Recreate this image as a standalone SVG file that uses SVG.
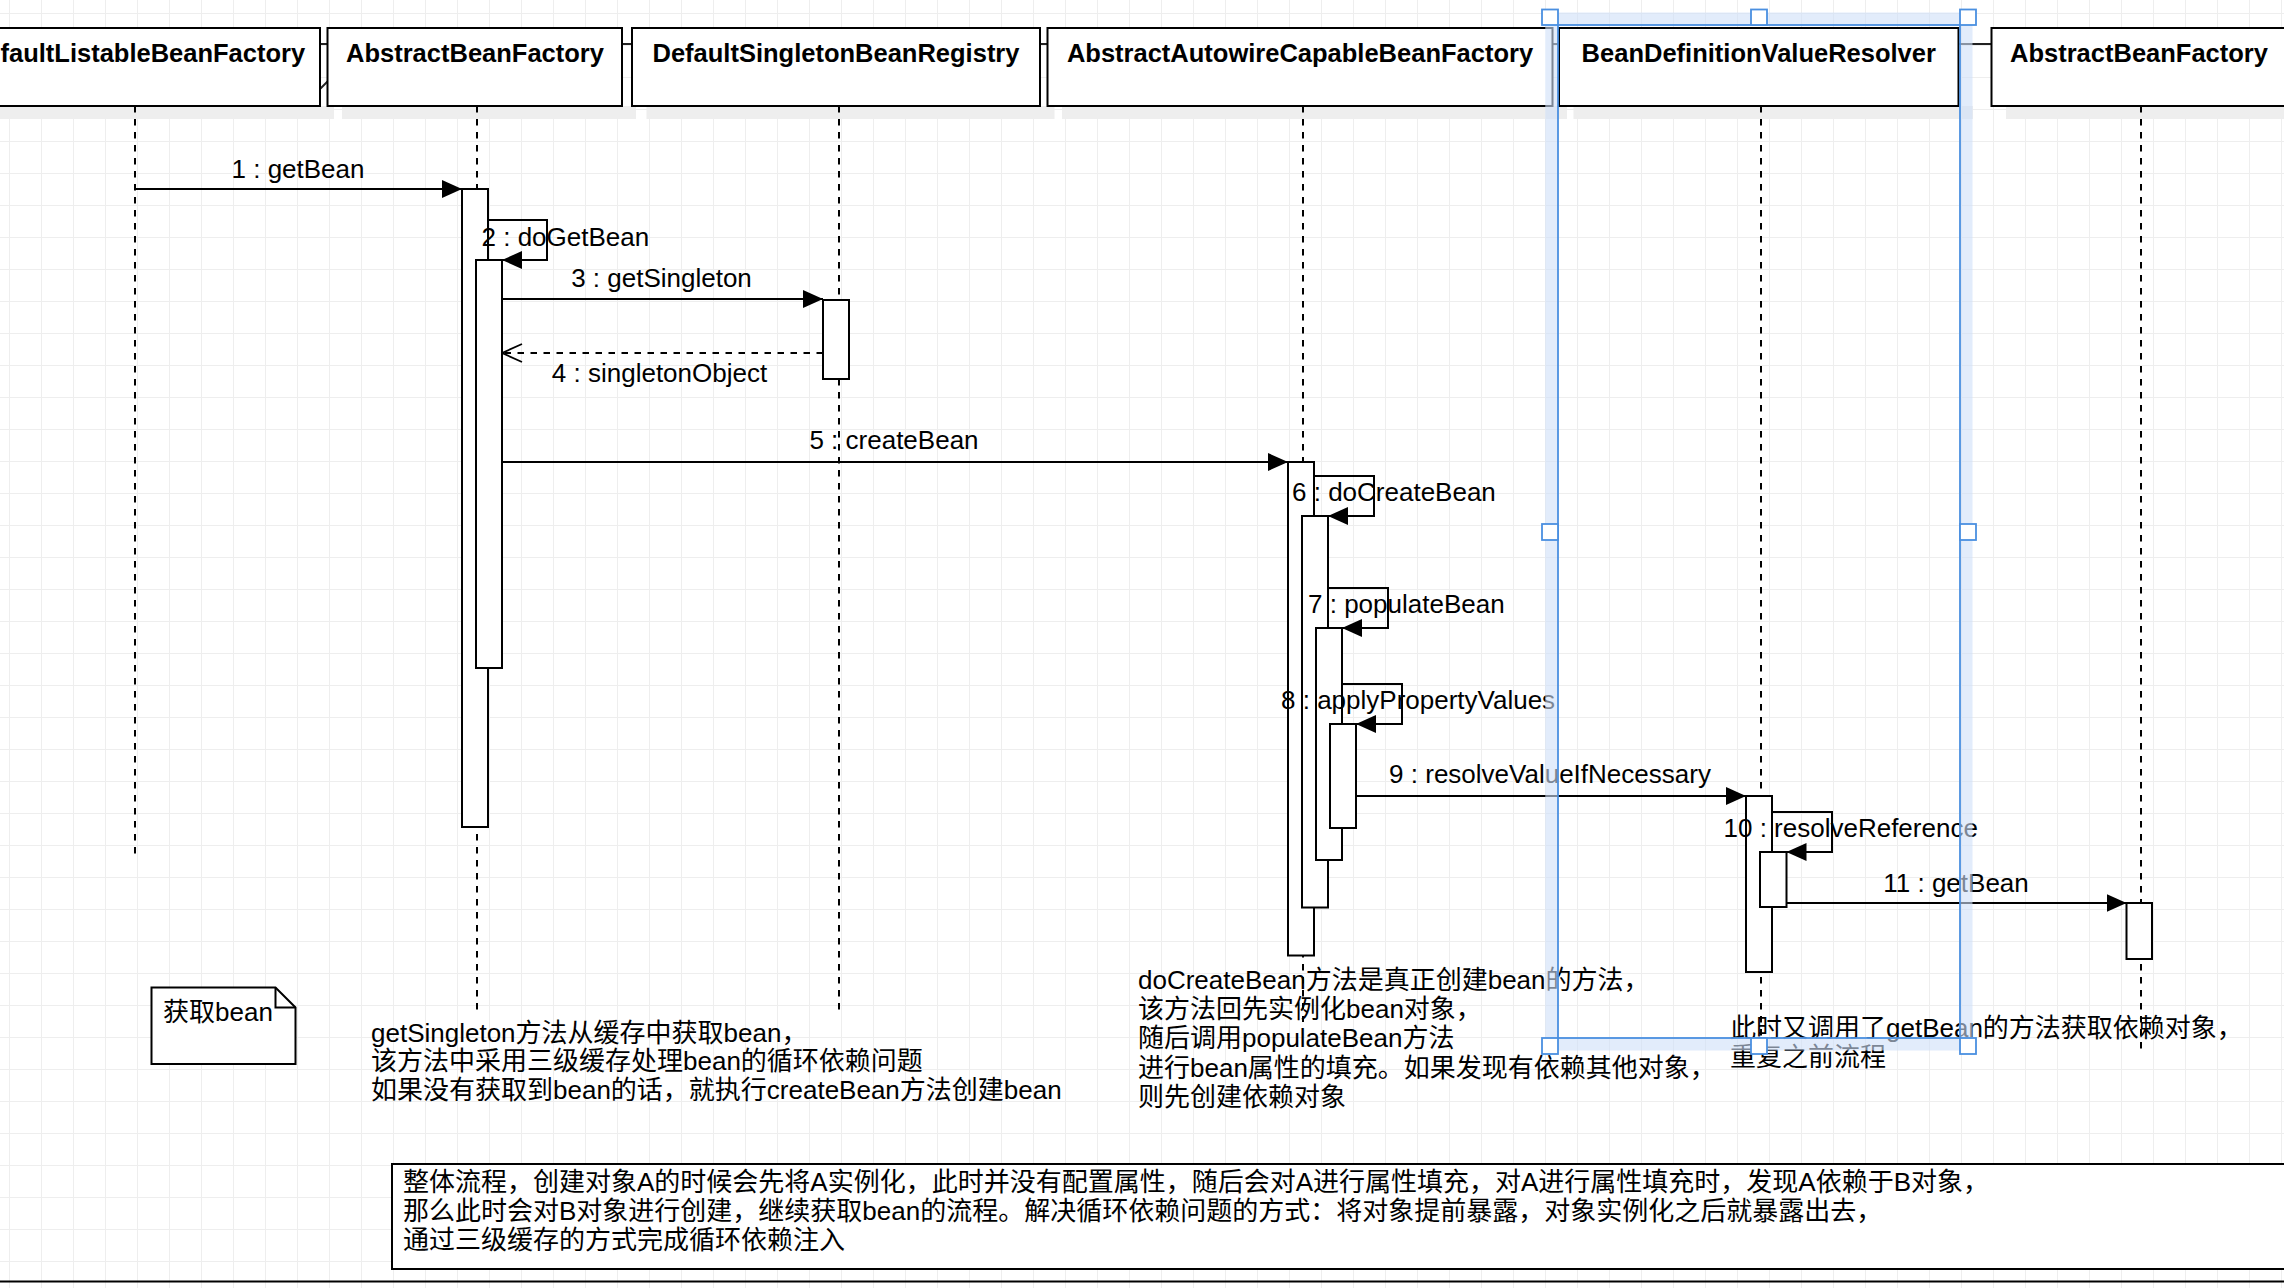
<svg xmlns="http://www.w3.org/2000/svg" width="2284" height="1288" viewBox="0 0 2284 1288">
<defs>
<pattern id="grid" width="32" height="32" patternUnits="userSpaceOnUse" x="9" y="13">
<path d="M0 0.5H32M0.5 0V32" stroke="#eeeeee" stroke-width="1" fill="none"/>
</pattern>
<marker id="filled" markerUnits="userSpaceOnUse" viewBox="0 0 20 18" markerWidth="20" markerHeight="18" refX="20" refY="9" orient="auto">
<path d="M0 0L20 9L0 18Z" fill="#000"/>
</marker>
<marker id="open" markerUnits="userSpaceOnUse" viewBox="-1 -1 22 20" markerWidth="22" markerHeight="20" refX="20" refY="9" orient="auto">
<path d="M0 0L20 9L0 18" fill="none" stroke="#000" stroke-width="1.8"/>
</marker>
</defs>
<style>
.hdr{fill:#fff;stroke:#000;stroke-width:2}
.shadow{fill:#eeeeee}
.hdrtxt{font-family:"Liberation Sans",Arial,sans-serif;font-weight:bold;font-size:25.5px;fill:#000;text-anchor:middle}
.life{stroke:#000;stroke-width:2;stroke-dasharray:6.5 6.5;fill:none}
.act{fill:#fff;stroke:#000;stroke-width:2}
.msg{stroke:#000;stroke-width:2;fill:none}
.ret{stroke:#000;stroke-width:2;fill:none;stroke-dasharray:6.5 6.5}
.lbl{font-family:"Liberation Sans",Arial,sans-serif;font-size:26px;fill:#000}
.mid{text-anchor:middle}
.txt{font-family:"Liberation Sans","Noto Sans CJK SC",sans-serif;font-size:26px;fill:#000}
.link{stroke:#222;stroke-width:2;fill:none}
.selband{fill:none;stroke:#cfe0f8;stroke-opacity:0.6;stroke-width:12.5}
.selline{fill:none;stroke:#4a8fe0;stroke-width:1.8}
.handle{fill:#fff;stroke:#4a8fe0;stroke-width:1.8}
</style>
<rect x="0" y="0" width="2284" height="1288" fill="#fff"/>
<rect x="0" y="0" width="2284" height="1288" fill="url(#grid)"/>

<g id="frame-links">
<line class="link" x1="320" y1="44" x2="328" y2="44"/>
<line class="link" x1="320.5" y1="88.5" x2="327.5" y2="81.5"/>
<line class="link" x1="622" y1="44" x2="632" y2="44"/>
<line class="link" x1="1040" y1="44" x2="1048" y2="44"/>
<line class="link" x1="1552" y1="44" x2="1559" y2="44"/>
<line class="link" x1="1958" y1="44" x2="1992" y2="44"/>
</g>

<g id="DefaultListableBeanFactory">
<rect class="shadow" x="-35" y="106" width="369" height="13"/>
<line class="life" x1="135" y1="106" x2="135" y2="856"/>
<rect class="hdr" x="-50" y="28" width="370" height="78"/>
<text class="hdrtxt" x="0.5" y="62" style="text-anchor:start">faultListableBeanFactory</text>
</g>

<g id="AbstractBeanFactory">
<rect class="shadow" x="342" y="106" width="294" height="13"/>
<line class="life" x1="477" y1="106" x2="477" y2="1013"/>
<rect class="hdr" x="327.5" y="28" width="294.5" height="78"/>
<text class="hdrtxt" x="475" y="62">AbstractBeanFactory</text>
<rect class="act" x="462" y="189" width="26" height="638"/>
<rect class="act" x="476" y="260" width="26" height="408"/>
</g>

<g id="DefaultSingletonBeanRegistry">
<rect class="shadow" x="646.5" y="106" width="408" height="13"/>
<line class="life" x1="839" y1="106" x2="839" y2="1013"/>
<rect class="hdr" x="632" y="28" width="408" height="78"/>
<text class="hdrtxt" x="836" y="62">DefaultSingletonBeanRegistry</text>
<rect class="act" x="823" y="300" width="26" height="79"/>
</g>

<g id="AbstractAutowireCapableBeanFactory">
<rect class="shadow" x="1062" y="106" width="505" height="13"/>
<line class="life" x1="1303" y1="106" x2="1303" y2="1022"/>
<rect class="hdr" x="1047.5" y="28" width="505" height="78"/>
<text class="hdrtxt" x="1300" y="62">AbstractAutowireCapableBeanFactory</text>
<rect class="act" x="1288" y="462" width="26" height="493.5"/>
<rect class="act" x="1302" y="516" width="26" height="391.5"/>
<rect class="act" x="1316" y="628" width="26" height="232"/>
<rect class="act" x="1330" y="724" width="26" height="104"/>
</g>

<g id="BeanDefinitionValueResolver">
<rect class="shadow" x="1573.5" y="106" width="399.5" height="13"/>
<line class="life" x1="1761" y1="106" x2="1761" y2="1050"/>
<rect class="hdr" x="1559" y="28" width="399.5" height="78"/>
<text class="hdrtxt" x="1758.75" y="62">BeanDefinitionValueResolver</text>
<rect class="act" x="1746" y="796" width="26" height="176"/>
<rect class="act" x="1760" y="852" width="26.5" height="55"/>
</g>

<g id="AbstractBeanFactory2">
<rect class="shadow" x="2006" y="106" width="299" height="13"/>
<line class="life" x1="2141" y1="106" x2="2141" y2="1050"/>
<rect class="hdr" x="1991.5" y="28" width="299" height="78"/>
<text class="hdrtxt" x="2139" y="62">AbstractBeanFactory</text>
<rect class="act" x="2126.5" y="903" width="25.5" height="56"/>
</g>

<g id="connectors">
<line class="msg" x1="135" y1="189" x2="462" y2="189" marker-end="url(#filled)"/>
<polyline class="msg" points="488,220 547,220 547,260 502,260" marker-end="url(#filled)"/>
<line class="msg" x1="502" y1="299" x2="823" y2="299" marker-end="url(#filled)"/>
<line class="ret" x1="823" y1="353" x2="502" y2="353" marker-end="url(#open)"/>
<line class="msg" x1="502" y1="462" x2="1288" y2="462" marker-end="url(#filled)"/>
<polyline class="msg" points="1314,476 1374,476 1374,516 1328,516" marker-end="url(#filled)"/>
<polyline class="msg" points="1328,588 1388,588 1388,628 1342,628" marker-end="url(#filled)"/>
<polyline class="msg" points="1342,684 1402,684 1402,724 1356,724" marker-end="url(#filled)"/>
<line class="msg" x1="1356" y1="796" x2="1746" y2="796" marker-end="url(#filled)"/>
<polyline class="msg" points="1772,812 1832,812 1832,852 1786.5,852" marker-end="url(#filled)"/>
<line class="msg" x1="1786.5" y1="903" x2="2126.5" y2="903" marker-end="url(#filled)"/>
<text class="lbl mid" x="298" y="178">1 : getBean</text>
<text class="lbl" x="481.5" y="245.5">2 : doGetBean</text>
<text class="lbl mid" x="661.5" y="287">3 : getSingleton</text>
<text class="lbl mid" x="659.5" y="382">4 : singletonObject</text>
<text class="lbl mid" x="894" y="449">5 : createBean</text>
<text class="lbl" x="1292" y="501">6 : doCreateBean</text>
<text class="lbl" x="1308" y="613">7 : populateBean</text>
<text class="lbl" x="1281" y="709">8 : applyPropertyValues</text>
<text class="lbl mid" x="1550" y="783">9 : resolveValueIfNecessary</text>
<text class="lbl" x="1723.5" y="837">10 : resolveReference</text>
<text class="lbl mid" x="1956" y="892">11 : getBean</text>
</g>

<g id="note-getbean">
<path d="M151.5 987.5H275.5L295.5 1007.5V1064H151.5Z" fill="#fff" stroke="#000" stroke-width="2"/>
<path d="M275.5 987.5V1007.5H295.5" fill="none" stroke="#000" stroke-width="2"/>
<text class="txt" x="163" y="1021">获取bean</text>
</g>

<g id="text-getSingleton">
<text class="txt" x="371" y="1041.5">getSingleton方法从缓存中获取bean，</text>
<text class="txt" x="371" y="1070">该方法中采用三级缓存处理bean的循环依赖问题</text>
<text class="txt" x="371" y="1098.5">如果没有获取到bean的话，就执行createBean方法创建bean</text>
</g>

<g id="text-doCreateBean">
<text class="txt" x="1138" y="989">doCreateBean方法是真正创建bean的方法，</text>
<text class="txt" x="1138" y="1018.2">该方法回先实例化bean对象，</text>
<text class="txt" x="1138" y="1047.4">随后调用populateBean方法</text>
<text class="txt" x="1138" y="1076.6">进行bean属性的填充。如果发现有依赖其他对象，</text>
<text class="txt" x="1138" y="1105.8">则先创建依赖对象</text>
</g>

<g id="text-resolver">
<text class="txt" x="1730" y="1037">此时又调用了getBean的方法获取依赖对象，</text>
<text class="txt" x="1730" y="1066">重复之前流程</text>
</g>

<g id="summary">
<rect x="392" y="1164" width="1920" height="105" fill="#fff" stroke="#000" stroke-width="2"/>
<text class="txt" x="403" y="1190.5">整体流程，创建对象A的时候会先将A实例化，此时并没有配置属性，随后会对A进行属性填充，对A进行属性填充时，发现A依赖于B对象，</text>
<text class="txt" x="403" y="1219.5">那么此时会对B对象进行创建，继续获取bean的流程。解决循环依赖问题的方式：将对象提前暴露，对象实例化之后就暴露出去，</text>
<text class="txt" x="403" y="1248.5">通过三级缓存的方式完成循环依赖注入</text>
</g>

<line x1="0" y1="1281.5" x2="2284" y2="1281.5" stroke="#000" stroke-width="2"/>

<g id="selection">
<rect class="selband" x="1551.5" y="18.75" width="414.75" height="1025.5"/>
<rect class="selline" x="1558" y="25" width="402" height="1013"/>
<rect class="handle" x="1542" y="9.5" width="16" height="15.5"/>
<rect class="handle" x="1751" y="9.5" width="16" height="15.5"/>
<rect class="handle" x="1960" y="9.5" width="16" height="15.5"/>
<rect class="handle" x="1542" y="524" width="16" height="16"/>
<rect class="handle" x="1960" y="524" width="16" height="16"/>
<rect class="handle" x="1542" y="1038" width="16" height="16"/>
<rect class="handle" x="1751" y="1038" width="16" height="16"/>
<rect class="handle" x="1960" y="1038" width="16" height="16"/>
</g>
</svg>
